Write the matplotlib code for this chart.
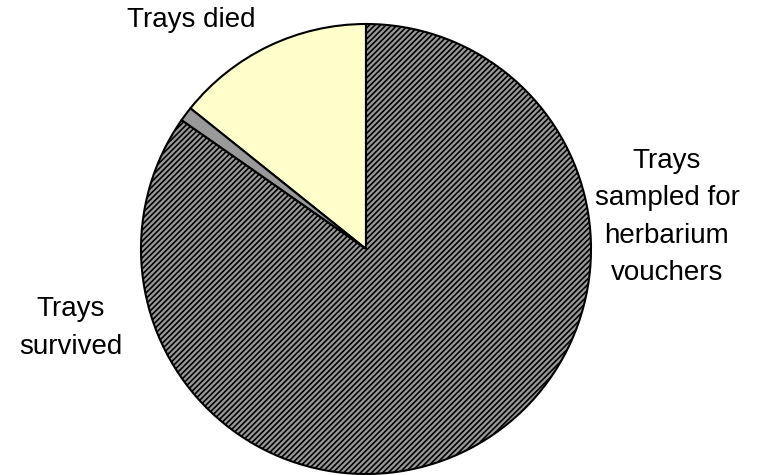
import matplotlib.pyplot as plt

plt.rcParams['font.family'] = ['Liberation Sans', 'DejaVu Sans']
plt.rcParams['hatch.linewidth'] = 1.2

# shares of trays (percent), counter-clockwise from 12 o'clock
categories = ["Trays died", "Trays sampled for herbarium vouchers", "Trays survived"]
shares = [14.25, 1.05, 84.7]
colors = ["#FFFFCC", "#999999", "#999999"]
hatches = ["", "", "//////"]

W, H = 767, 475
fig = plt.figure(figsize=(W / 100, H / 100), dpi=100)
ax = fig.add_axes([0, 0, 1, 1])

# pie centre / radius in pixels
cx, cy, r = 366, 249, 225

wedges, _ = ax.pie(shares, colors=colors, startangle=90, counterclock=True,
                   wedgeprops=dict(edgecolor="black", linewidth=1.5))
for w, h in zip(wedges, hatches):
    w.set_hatch(h)

ax.set_xlim(-cx / r, (W - cx) / r)
ax.set_ylim(-(H - cy) / r, cy / r)
ax.set_aspect("auto")
ax.axis("off")


def label(lines, x, baselines):
    for txt, yb in zip(lines, baselines):
        fig.text(x / W, 1 - yb / H, txt, ha="center", va="baseline",
                 fontsize=20, color="black")


label(["Trays died"], 191, [27])
label(["Trays", "sampled for", "herbarium", "vouchers"], 667, [168, 205, 243, 280])
label(["Trays", "survived"], 71, [316, 354])

fig.savefig("out.png", dpi=100)
